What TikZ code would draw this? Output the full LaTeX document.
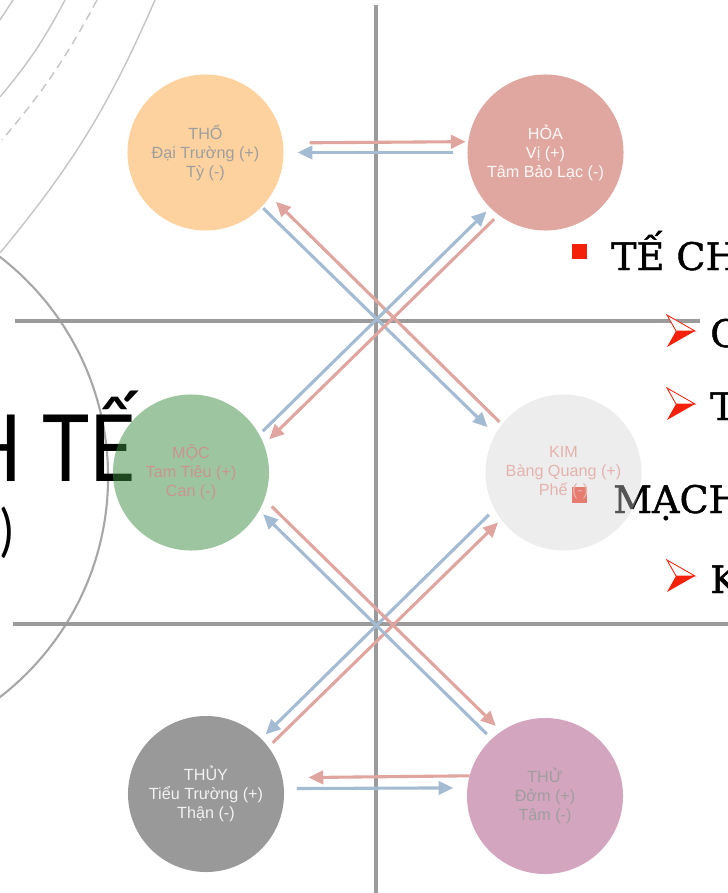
\documentclass[tikz,border=0pt]{standalone}
\usepackage{fontspec}
\setmainfont{Liberation Sans}
\newfontfamily\titlefont{Lato}[FakeStretch=0.86]
\newfontfamily\slidefont{DejaVu Serif}[FakeBold=1.2]
\usetikzlibrary{arrows.meta}

\definecolor{thocol}{HTML}{FDD29E}
\definecolor{hoacol}{HTML}{E0A6A0}
\definecolor{moccol}{HTML}{3C8C3F}
\definecolor{kimcol}{HTML}{D2D2D2}
\definecolor{thuycol}{HTML}{999999}
\definecolor{thucol}{HTML}{D4A5BF}
\definecolor{axisgray}{HTML}{9B9B9B}
\definecolor{ringgray}{HTML}{C4C4C4}
\definecolor{arrred}{HTML}{E1A5A0}
\definecolor{arrblue}{HTML}{A3BBD3}
\definecolor{bulletred}{HTML}{F5200A}

\begin{document}
\begin{tikzpicture}[x=0.025cm,y=-0.025cm,
    elem/.style={circle,inner sep=0pt,outer sep=0pt,minimum size=3.9cm,align=center,
      font=\fontsize{11.5}{13.5}\selectfont},
    axis/.style={draw=axisgray,line width=3pt},
    ring/.style={draw=ringgray,line width=1pt},
    redarr/.style={draw=arrred,line width=2.2pt,->},
    bluearr/.style={draw=arrblue,line width=2.2pt,->},
    slidetext/.style={anchor=base west,inner sep=0pt,font=\slidefont\fontsize{27}{30}\selectfont},
    >={Triangle[length=10.5pt,width=9.5pt]}]
      \useasboundingbox (0,0) rectangle (728,893);
      \clip (0,0) rectangle (728,893);

      % rings at the left edge
      \draw[ring] (13,0) -- (0,20);
      \draw[ring] (65,0) to[bend left=6] (0,97);
      \draw[ring,dash pattern=on 6pt off 4pt] (97,0) to[bend left=6] (2,140);
      \draw[ring] (155,0) to[bend left=8] (0,253);
      \draw[draw=ringgray!85!black,line width=1.5pt] (-170,477) circle[radius=6.95cm];

      % cross lines
      \draw[axis] (376,5) -- (376,893);
      \draw[axis] (15,321) -- (700,321);
      \draw[axis] (13,624) -- (728,624);

      % title on the left
      \node[anchor=base east,inner sep=0pt,font=\titlefont\fontsize{66}{70}\selectfont] (title) at (136,481) {H TẾ};
      \node[anchor=base east,inner sep=0pt,font=\titlefont\fontsize{40}{44}\selectfont] (sub) at (14,550) {C)};

      % bullet list on the right
      \fill[bulletred] (572,244) rectangle (587,259);
      \node[slidetext] (te) at (611,270) {TẾ CH};
      \foreach \by in {315,388,560} {
        \filldraw[draw=bulletred,fill=white,line width=0.6pt] (667,\by) -- (695,\by+16) -- (676,\by+16) -- cycle;
        \fill[bulletred] (676,\by+16) -- (695,\by+16) -- (667,\by+32) -- cycle;
      }
      \node[slidetext] (c) at (710,347) {C};
      \node[slidetext] (t) at (710,420) {T};
      \fill[bulletred!85!white] (572,487) rectangle (587,503);
      \node[slidetext] (mach) at (613,513) {MẠCH};
      \node[slidetext] (k) at (710,593) {K};

      % the five elements
      \node[elem,fill=thocol,text=black!38] (tho) at (205.5,152.5) {THỔ\\Đại Trường (+)\\Tỳ (-)};
      \node[elem,fill=hoacol,text=white!92!hoacol] (hoa) at (545.5,152.5) {HỎA\\Vị (+)\\Tâm Bảo Lạc (-)};
      \node[elem,fill=moccol,fill opacity=0.5,text opacity=1,text=arrred!90!black] (moc) at (191,472.5) {MỘC\\Tam Tiêu (+)\\Can (-)};
      \node[elem,fill=kimcol,fill opacity=0.4,text opacity=1,text=arrred!85!white] (kim) at (563.5,472.5) {KIM\\Bàng Quang (+)\\Phế (-)};
      \node[elem,fill=thuycol,text=white!95!black] (thuy) at (206,794) {THỦY\\Tiểu Trường (+)\\Thận (-)};
      \node[elem,fill=thucol,text=black!38] (thu) at (545,796) {THỬ\\Đởm (+)\\Tâm (-)};

      % top and bottom pairs
      \draw[redarr,shorten <=18.9pt,shorten >=1.8pt] (tho.7.4) -- (hoa.172.6);
      \draw[bluearr,shorten <=10pt,shorten >=10pt] (hoa.180) -- (tho.0);
      \draw[redarr,shorten >=18.6pt] (thu.165.9) -- (thuy.12.6);
      \draw[bluearr,shorten <=9.2pt,shorten >=10pt] (thuy.4.4) -- (thu.174.1);

      % upper cross
      \draw[bluearr,shorten <=1.6pt,shorten >=7.6pt] (tho.-44) -- (kim.151.35);
      \draw[redarr,shorten <=2.6pt,shorten >=5.7pt] (kim.142.96) -- (tho.-34.1);
      \draw[bluearr,shorten <=3.6pt,shorten >=3.8pt] (moc.29.4) -- (hoa.-135.8);
      \draw[redarr,shorten <=4.4pt,shorten >=5.3pt] (hoa.-127.5) -- (moc.21.1);

      % lower cross
      \draw[bluearr,shorten <=5.7pt,shorten >=4.5pt] (kim.-152.25) -- (thuy.45.8);
      \draw[redarr,shorten <=4.3pt,shorten >=3.1pt] (thuy.37.3) -- (kim.-143.8);
      \draw[redarr,shorten <=7.4pt,shorten >=5.5pt] (moc.-20.2) -- (thu.124.1);
      \draw[bluearr,shorten <=4.9pt,shorten >=3.9pt] (thu.133.4) -- (moc.-29);

   \end{tikzpicture}
\end{document}
